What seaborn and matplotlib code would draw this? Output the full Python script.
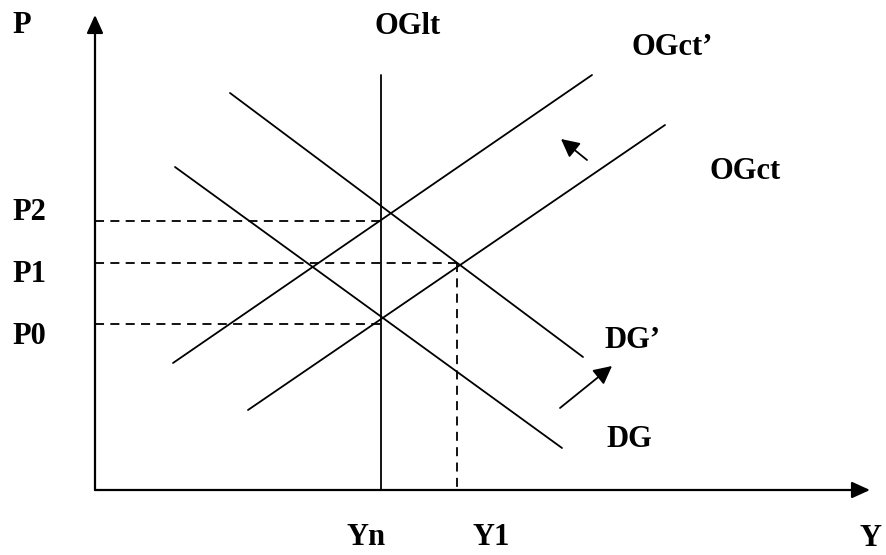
import matplotlib
matplotlib.use("Agg")
import matplotlib.pyplot as plt
import seaborn as sns
import pandas as pd

# ---- data (schematic diagram, coordinates in canvas units; y grows downward) ----
curve_names = ["OGlt", "OGct'", "OGct", "DG'", "DG"]
curve_x0 = [381, 173, 248, 230, 175]
curve_y0 = [75, 363, 410, 93, 167]
curve_x1 = [381, 592, 665, 583, 562]
curve_y1 = [490, 75, 125, 357, 448]

guide_names = ["P2", "P1", "P0", "Y1"]
guide_x0 = [95, 95, 95, 457]
guide_y0 = [221, 263, 324, 263]
guide_x1 = [381, 457, 381, 457]
guide_y1 = [221, 263, 324, 490]

origin = (95, 490)
y_axis_tip = (95, 15)
x_axis_tip = (870, 490)

shift_tails = [(560, 408), (587, 160)]
shift_tips = [(612, 366), (561, 139)]

labels = ["P", "OGlt", "OGct\u2019", "OGct", "P2", "P1", "P0", "DG\u2019", "DG", "Yn", "Y1", "Y"]
label_x = [12, 375, 632, 710, 12, 12, 12, 604, 606, 347, 473, 860]
label_y = [33, 34, 55, 179, 220, 282, 344, 348, 447, 545, 545, 546]

# ---- figure ----
sns.set_theme(style="white")
plt.rcParams["font.family"] = ["Liberation Serif", "DejaVu Serif"]
fig = plt.figure(figsize=(8.86, 5.55), dpi=100)
ax = fig.add_axes([0, 0, 1, 1])
ax.set_xlim(0, 886)
ax.set_ylim(555, 0)
ax.axis("off")

solid = pd.DataFrame({
    "curve": curve_names * 2,
    "x": curve_x0 + curve_x1,
    "y": curve_y0 + curve_y1,
})
sns.lineplot(data=solid, x="x", y="y", units="curve", estimator=None, sort=False,
             color="black", lw=1.3, ax=ax, legend=False)

dashed = pd.DataFrame({
    "guide": guide_names * 2,
    "x": guide_x0 + guide_x1,
    "y": guide_y0 + guide_y1,
})
sns.lineplot(data=dashed, x="x", y="y", units="guide", estimator=None, sort=False,
             color="black", lw=1.3, linestyle=(0, (5, 3.5)), ax=ax, legend=False)

axis_style = dict(arrowstyle="-|>,head_length=0.55,head_width=0.25", color="black",
                  lw=1.6, mutation_scale=20, shrinkA=0, shrinkB=0)
ax.annotate("", xy=y_axis_tip, xytext=origin, arrowprops=axis_style)
ax.annotate("", xy=x_axis_tip, xytext=origin, arrowprops=axis_style)

shift_style = dict(arrowstyle="-|>,head_length=0.55,head_width=0.28", color="black",
                   lw=1.3, mutation_scale=20, shrinkA=0, shrinkB=0)
for tail, tip in zip(shift_tails, shift_tips):
    ax.annotate("", xy=tip, xytext=tail, arrowprops=shift_style)

for t, x, y in zip(labels, label_x, label_y):
    ax.text(x, y, t, ha="left", va="baseline", fontsize=22, fontweight="bold",
            color="black")

fig.savefig("out.png", dpi=100)
